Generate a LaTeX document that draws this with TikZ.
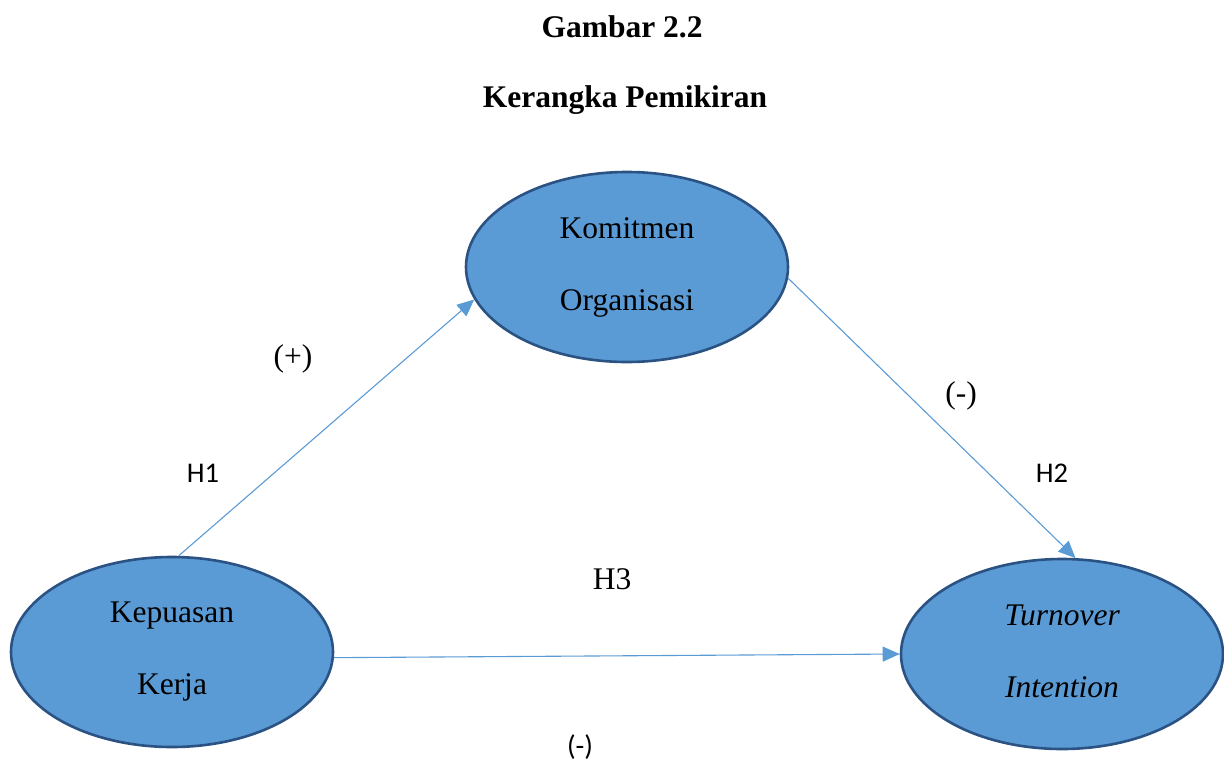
\documentclass[tikz,border=0pt]{standalone}
\usepackage{fontspec}
\setmainfont{Liberation Serif}
\newfontfamily\labelsans{Carlito}
\usetikzlibrary{shapes.geometric,arrows.meta}
\definecolor{varfill}{HTML}{5B9BD5}
\definecolor{varedge}{HTML}{2A5283}
\definecolor{pathcol}{HTML}{5B9BD5}
\begin{document}
\begin{tikzpicture}[x=1pt,y=-1pt,
  varnode/.style={ellipse,draw=varedge,line width=2.6pt,fill=varfill,
    minimum width=322pt,minimum height=190pt,inner sep=0pt,align=center,
    font=\fontsize{31.5}{72}\selectfont},
  hyppath/.style={draw=pathcol,line width=1.1pt,
    -{Triangle[length=17pt,width=15pt]}},
  serifnote/.style={font=\fontsize{31.5}{36}\selectfont},
  sansnote/.style={font=\labelsans\fontsize{28.5}{34}\selectfont},
  titletext/.style={font=\bfseries\fontsize{31.5}{36}\selectfont}]
\useasboundingbox (0,0) rectangle (1224,761);

% heading
\node[titletext] (title) at (622,27) {Gambar 2.2};
\node[titletext] (subtitle) at (625,100) {Kerangka Pemikiran};

% variables
\node[varnode] (kom) at (627,267) {Komitmen\\Organisasi};
\node[varnode] (kep) at (172,652) {Kepuasan\\Kerja};
\node[varnode] (tov) at (1062,654) {\itshape Turnover\\\itshape Intention\rule[-6pt]{0pt}{0pt}};

% hypothesised paths
\draw[hyppath] (kep.86) -- (kom.192.5);
\draw[hyppath] (kom.356.5) -- (tov.82);
\draw[hyppath] (kep.358.2) -- (tov.180);

% path labels
\node[serifnote] (plus1) at (293,359) {(+)};
\node[sansnote] (h1) at (203,473) {H1};
\node[serifnote] (minus2) at (961,396) {(-)};
\node[sansnote] (h2) at (1052,473) {H2};
\node[serifnote] (h3) at (612,579) {H3};
\node[sansnote] (minus3) at (580,747) {(-)};
\end{tikzpicture}
\end{document}
